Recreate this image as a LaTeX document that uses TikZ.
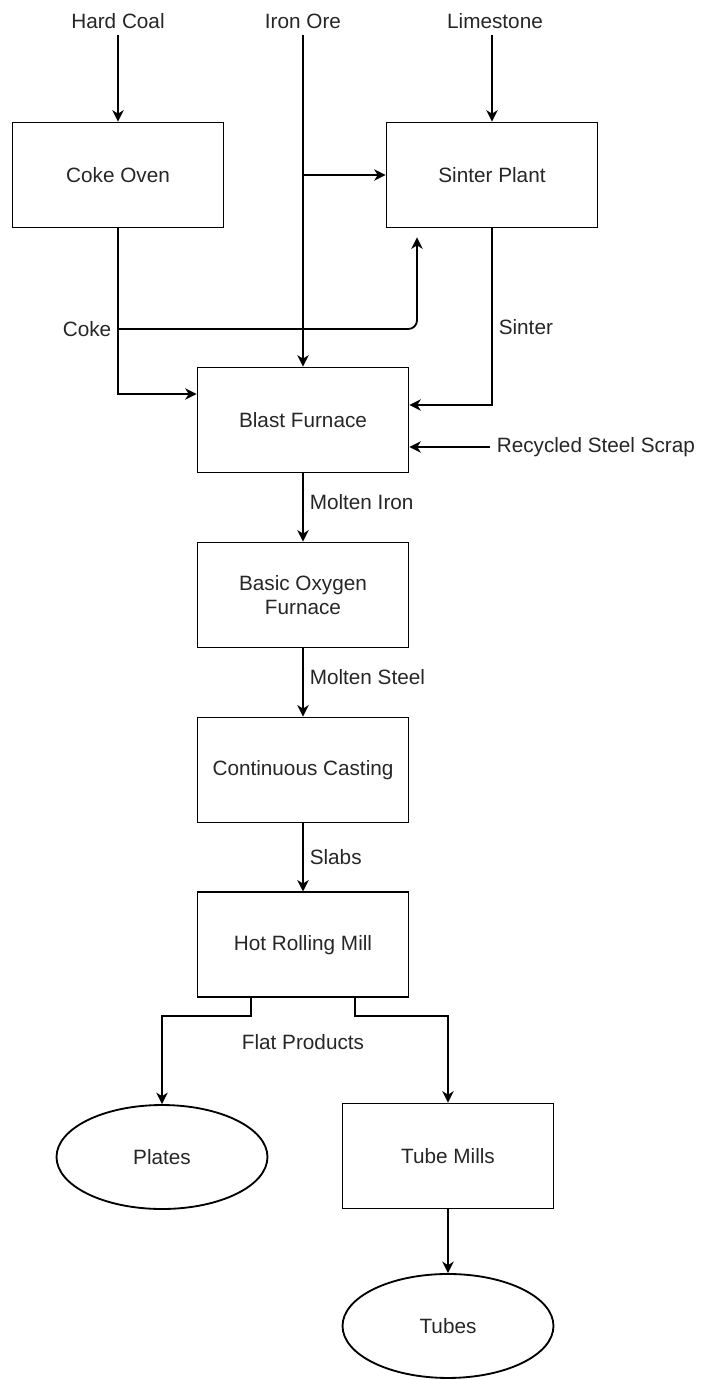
\documentclass[tikz,border=0pt]{standalone}
\usepackage{fontspec}
\setmainfont{Liberation Sans}
\usetikzlibrary{arrows.meta,positioning,shapes.geometric}

\begin{document}
\begin{tikzpicture}[->,>={Stealth[length=6.5pt,width=6.5pt,inset=2pt]},auto,
  node distance=3.5cm,line width=1.05pt,x=0.02cm,y=-0.02cm,
  font=\fontsize{11.8}{13.6}\selectfont,text=black!85,
  main node/.style={rectangle,draw,align=center,minimum width=4.22cm,minimum height=2.1cm},
  end node/.style={ellipse,draw,minimum width=4.22cm,minimum height=2.08cm,inner sep=0pt}]
  \useasboundingbox (0,0) rectangle (701,1380);

  \node[main node] (1) at (118,175) {Coke Oven};
  \node[main node] (2) at (492,175) {Sinter Plant};
  \node[main node] (3) at (303,420) {Blast Furnace};
  \node[main node] (4) [below of=3] {Basic Oxygen\\Furnace};
  \node[main node] (5) [below of=4] {Continuous Casting};
  \node[main node] (6) [below of=5] {Hot Rolling Mill};
  \node[end node] (7) at (162,1157) {Plates};
  \node[main node] (8) at (448,1156) {Tube Mills};
  \node[end node] (9) [below of=8, node distance=3.4cm] {Tubes};

  % inputs
  \node (10) at (118,21) {Hard Coal};
  \node (11) at (303,21) {Iron Ore};
  \node (12) at (495,21) {Limestone};
  \node[right] (13) at (490,447) {Recycled Steel Scrap};
  \coordinate (k) at (118,329);
  \node[left] (14) at (k) {Coke};
  \node (15) [below of=6, node distance=1.94cm] {Flat Products};

  \path (10) edge (1)
        (11) edge (3)
        (12.south -| 2) edge (2);
  \draw (11 |- 2) -- (2);
  \draw (1) |- ([yshift=0.52cm]3.west);
  \draw[rounded corners=5pt, shorten >=0.18cm] (k) -| ([xshift=-1.5cm]2.south);
  \draw (2) |- node[pos=0.28] (16) {Sinter} ([yshift=0.3cm]3.east);
  \draw (13) -- (13 -| 3.east);

  \path (3) edge node[pos=0.42] (17) {Molten Iron} (4)
        (4) edge node[pos=0.42] (18) {Molten Steel} (5)
        (5) edge node (19) {Slabs} (6)
        (8) edge (9);
  \draw ([xshift=-1.04cm]6.south) -- ++(0,-0.36cm) -| (7);
  \draw ([xshift=1.04cm]6.south) -- ++(0,-0.36cm) -| (8);
\end{tikzpicture}
\end{document}
